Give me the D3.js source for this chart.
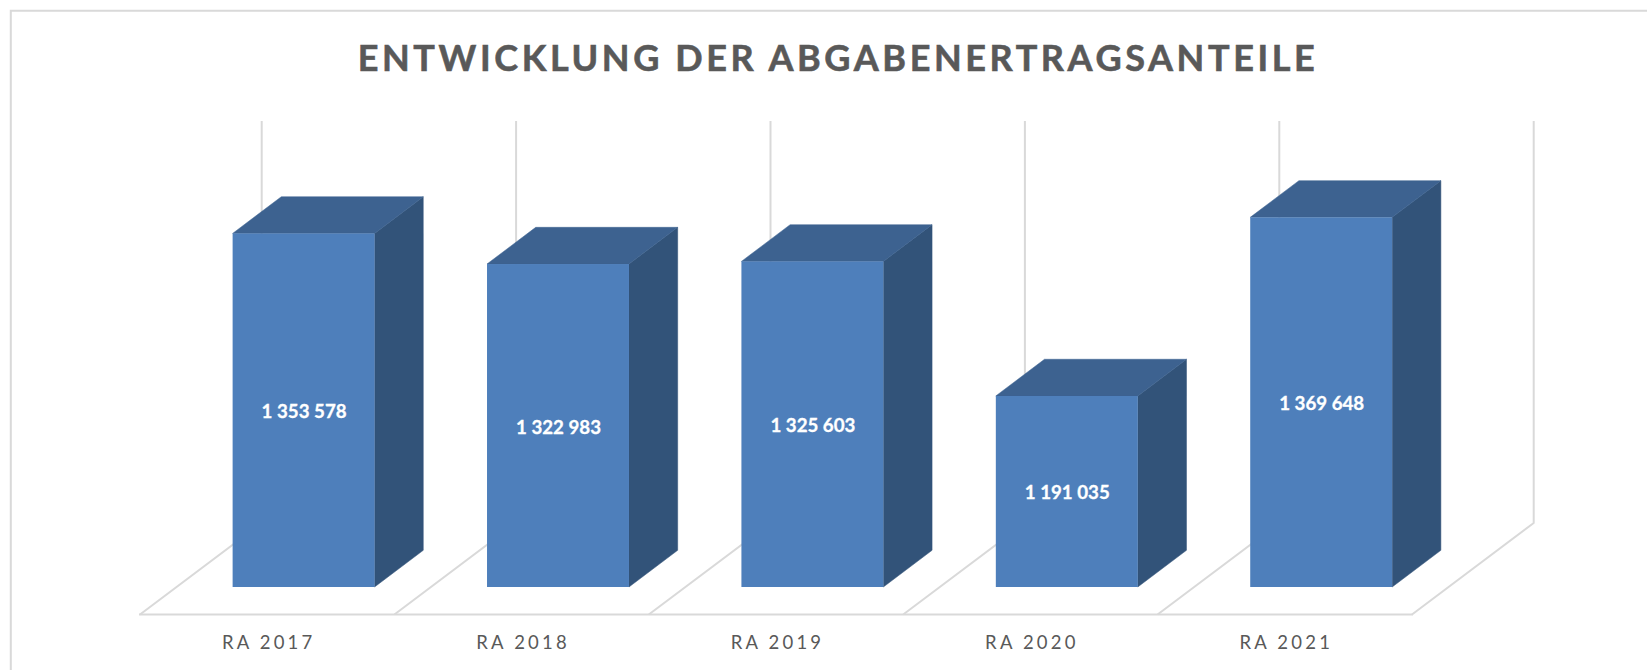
<!DOCTYPE html>
<html><head><meta charset="utf-8">
<script src="https://cdnjs.cloudflare.com/ajax/libs/d3/7.8.5/d3.min.js"></script>
<style>html,body{margin:0;background:#fff;overflow:hidden}svg{display:block}text{font-family:Lato,"Open Sans",sans-serif}</style>
</head><body><div id="c"></div>
<script>
const categories = ["RA 2017","RA 2018","RA 2019","RA 2020","RA 2021"];
const values = [1353578,1322983,1325603,1191035,1369648];
const valueLabels = ["1 353 578","1 322 983","1 325 603","1 191 035","1 369 648"];
const yDomain = [1000000,1400000];
const titleText = "ENTWICKLUNG DER ABGABENERTRAGSANTEILE";

const W=1647,H=670;
const svg=d3.select("#c").append("svg").attr("width",W).attr("height",H);
const gridC="#d9d9d9";
// frame
svg.append("path").attr("d",`M10.8,${H} V10.8 H${W}`).attr("fill","none").attr("stroke",gridC).attr("stroke-width",2);

const floorFront=614.5,floorBack=523,floorL=140,floorR=1412,ddx=121.7,wallTop=121;
const xFloor=d3.scaleBand().domain(categories).range([floorL,floorR]);
const y=d3.scaleLinear().domain(yDomain).range([587,187]);
const xBar=d3.scaleBand().domain(categories).range([floorL+36.4,floorR+36.4]).paddingInner(0.442).paddingOuter(0.221);
const depthX=48.7,depthY=36.7;

// wall lines
const edges=[...categories.map(c=>xFloor(c)),floorR];
const grid=svg.append("g").attr("fill","none").attr("stroke",gridC);
edges.forEach(e=>{
  grid.append("path").attr("stroke-width",2).attr("stroke-linejoin","round")
    .attr("d",`M${e},${floorFront} L${e+ddx},${floorBack} V${wallTop}`);
});
grid.append("line").attr("x1",floorL-1).attr("x2",floorR+1).attr("y1",floorFront).attr("y2",floorFront).attr("stroke-width",2.2);

// bars
const bars=svg.append("g").selectAll("g").data(categories).join("g");
bars.each(function(c,i){
  const g=d3.select(this),x0=xBar(c),x1=x0+xBar.bandwidth(),t=y(values[i]),b=y(yDomain[0]);
  g.append("path").attr("fill","#325379").attr("stroke","#325379").attr("stroke-width",0.5)
    .attr("d",`M${x1},${t} L${x1+depthX},${t-depthY} V${b-depthY} L${x1},${b} Z`);
  g.append("path").attr("fill","#3d6290").attr("stroke","#3d6290").attr("stroke-width",0.5)
    .attr("d",`M${x0},${t} L${x0+depthX},${t-depthY} H${x1+depthX} L${x1},${t} Z`);
  g.append("rect").attr("x",x0).attr("y",t).attr("width",x1-x0).attr("height",b-t).attr("fill","#4e7fbb");
  g.append("text").attr("x",(x0+x1)/2+0.5).attr("y",(t+b)/2+8).attr("text-anchor","middle")
    .attr("fill","#fff").attr("stroke","#fff").attr("stroke-width",0.3)
    .attr("font-weight",700).attr("font-size",18.7).text(valueLabels[i]);
});

// category labels
svg.append("g").selectAll("text").data(categories).join("text")
  .attr("x",c=>xFloor(c)+xFloor.bandwidth()/2+1.5).attr("y",649).attr("text-anchor","middle")
  .attr("fill","#595959").attr("font-size",18.5).attr("letter-spacing",3.2).text(c=>c);

svg.append("text").attr("x",838).attr("y",71).attr("text-anchor","middle")
  .attr("fill","#595959").attr("stroke","#595959").attr("stroke-width",0.6)
  .attr("font-weight",700).attr("font-size",36).attr("letter-spacing",3.6).text(titleText);
</script></body></html>
